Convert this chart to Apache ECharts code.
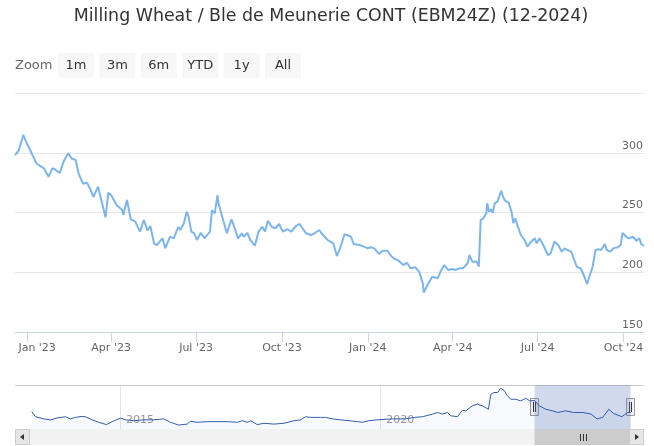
<!DOCTYPE html>
<html>
<head>
<meta charset="utf-8">
<title>Milling Wheat / Ble de Meunerie CONT</title>
<script src="https://cdn.jsdelivr.net/npm/echarts@6/dist/echarts.min.js"></script>
<style>
  html, body { margin: 0; padding: 0; background: #fff; }
  #chart { width: 654px; height: 446px; }
</style>
</head>
<body>
<div id="chart"></div>
<script>
// main series (Dec 2022 - Oct 2024)
var priceDates = [
  "2022-12-19","2022-12-23","2022-12-28","2022-12-31","2023-01-02","2023-01-05","2023-01-07","2023-01-11",
  "2023-01-15","2023-01-19","2023-01-24","2023-01-28","2023-01-31","2023-02-05","2023-02-09","2023-02-14",
  "2023-02-18","2023-02-22","2023-02-25","2023-03-02","2023-03-06","2023-03-10","2023-03-13","2023-03-18",
  "2023-03-21","2023-03-26","2023-03-29","2023-04-01","2023-04-07","2023-04-13","2023-04-14","2023-04-18",
  "2023-04-22","2023-04-27","2023-05-02","2023-05-06","2023-05-10","2023-05-13","2023-05-17","2023-05-20",
  "2023-05-26","2023-05-29","2023-05-31","2023-06-03","2023-06-07","2023-06-12","2023-06-14","2023-06-18",
  "2023-06-21","2023-06-23","2023-06-26","2023-06-29","2023-07-02","2023-07-06","2023-07-10","2023-07-13",
  "2023-07-16","2023-07-18","2023-07-21","2023-07-24","2023-07-25","2023-07-28","2023-07-31","2023-08-03",
  "2023-08-08","2023-08-12","2023-08-15","2023-08-19","2023-08-21","2023-08-25","2023-08-28","2023-09-02",
  "2023-09-06","2023-09-10","2023-09-13","2023-09-16","2023-09-20","2023-09-24","2023-09-28","2023-10-02",
  "2023-10-07","2023-10-11","2023-10-16","2023-10-20","2023-10-23","2023-10-27","2023-11-01","2023-11-05",
  "2023-11-10","2023-11-13","2023-11-19","2023-11-22","2023-11-25","2023-11-29","2023-12-03","2023-12-07",
  "2023-12-10","2023-12-14","2023-12-17","2023-12-23","2023-12-28","2024-01-01","2024-01-04","2024-01-08",
  "2024-01-13","2024-01-17","2024-01-22","2024-01-26","2024-01-29","2024-02-03","2024-02-08","2024-02-12",
  "2024-02-16","2024-02-21","2024-02-25","2024-02-29","2024-03-01","2024-03-05","2024-03-10","2024-03-16",
  "2024-03-19","2024-03-23","2024-03-27","2024-04-01","2024-04-04","2024-04-08","2024-04-12","2024-04-17",
  "2024-04-19","2024-04-22","2024-04-27","2024-04-29","2024-05-01","2024-05-04","2024-05-07","2024-05-08",
  "2024-05-10","2024-05-12","2024-05-14","2024-05-16","2024-05-19","2024-05-23","2024-05-25","2024-05-27",
  "2024-05-31","2024-06-03","2024-06-05","2024-06-07","2024-06-10","2024-06-13","2024-06-17","2024-06-20",
  "2024-06-24","2024-06-28","2024-06-30","2024-07-03","2024-07-07","2024-07-09","2024-07-12","2024-07-15",
  "2024-07-19","2024-07-23","2024-07-27","2024-07-30","2024-08-02","2024-08-06","2024-08-08","2024-08-12",
  "2024-08-16","2024-08-19","2024-08-23","2024-08-26","2024-08-29","2024-09-01","2024-09-04","2024-09-07",
  "2024-09-11","2024-09-13","2024-09-17","2024-09-20","2024-09-25","2024-09-28","2024-09-30","2024-10-04",
  "2024-10-07","2024-10-11","2024-10-15","2024-10-18","2024-10-20","2024-10-23"
];
var priceValues = [
  298,302,315,309,308,301,302,291,
  289,287,280,287,286,283,292.5,299.5,
  295,294,283,274,275,269,263,271.6,
  262,246,266.6,264.6,256,252,248,260.5,
  244.3,242.3,234,243.7,235,238.7,224,222.8,
  228.4,220,218.6,229.7,228.4,238,235.4,241,
  250.7,246.5,234,232.6,227,233,228.4,231.2,
  234,252,249.3,264.6,257.7,249.3,241,232.6,
  244.3,235.4,228.4,232.6,229.7,233,227,222.2,
  234,238,234,243,238,236.8,240.4,234,
  236,234,238.7,240.4,236.8,232.6,231.2,232.6,
  235.4,232,227,225.6,224.2,213.6,221.4,231.8,
  231.2,229.7,223.6,222.8,221.4,220,220.9,220,
  215.3,218,218,213.6,211.7,209.7,206,208,
  203.3,204.1,200.5,190.8,182.9,189.3,196.3,195,
  200.5,206,201.9,202.7,201.9,203.3,203.3,207.5,
  214.4,208.8,208.8,204.6,243.7,245.1,249.3,257.7,
  250.7,252.7,249.8,257.7,259,268.2,263.2,259.9,
  258.2,250.7,241,245.1,238,231.2,227,221.4,
  225.6,228.4,224.2,228.4,222.8,221.4,214.4,215.9,
  225.6,222.8,217.2,220,218.6,217.2,215.9,204.6,
  203.3,198.5,190.2,197.7,204.6,218.6,219.2,218.6,
  223.6,218.6,217.2,220,220.9,222.8,233,229.7,
  228.4,229.7,226.4,228.4,223.6,222
];

// navigator series (full history)
var navDates = [
  "2013-04-22","2013-05-17","2013-07-14","2013-08-30","2013-10-16","2013-12-13","2014-01-18","2014-02-22",
  "2014-04-10","2014-05-03","2014-06-19","2014-08-05","2014-09-28","2014-11-07","2015-01-04","2015-02-08",
  "2015-04-08","2015-06-17","2015-08-26","2015-11-04","2015-12-21","2016-02-17","2016-04-16","2016-05-10",
  "2016-06-26","2016-09-04","2016-11-13","2017-01-23","2017-04-04","2017-05-08","2017-06-12","2017-07-06",
  "2017-08-21","2017-10-07","2017-12-16","2018-02-25","2018-05-06","2018-06-21","2018-07-26","2018-08-30",
  "2018-11-08","2018-12-13","2019-01-29","2019-03-28","2019-05-26","2019-07-24","2019-08-28","2019-10-14",
  "2019-12-23","2020-03-27","2020-06-28","2020-08-26","2020-10-24","2021-01-02","2021-02-06","2021-03-13",
  "2021-04-17","2021-05-10","2021-06-26","2021-07-31","2021-08-23","2021-10-09","2021-11-13","2021-12-18",
  "2022-01-29","2022-02-15","2022-03-09","2022-04-03","2022-04-26","2022-05-19","2022-06-12","2022-07-05",
  "2022-08-09","2022-09-13","2022-10-18","2022-11-15","2022-12-19","2023-01-20","2023-03-08","2023-04-25",
  "2023-06-01","2023-07-24","2023-09-20","2023-11-25","2024-01-20","2024-03-01","2024-04-10","2024-05-23",
  "2024-06-25","2024-08-23","2024-10-01","2024-10-23"
];
var navValues = [
  231,199,186,180,191,199,186,195,
  201,199,180,165,151,169,191,180,
  175,180,180,186,165,148,154,171,
  165,169,169,169,165,175,165,175,
  151,159,154,159,175,180,199,195,
  195,195,186,180,175,169,165,175,
  181,186,186,195,199,215,225,215,
  225,205,199,239,235,266,276,266,
  245,336,347,347,373,360,327,306,
  306,296,312,296,298,266,245,235,
  225,235,225,225,215,186,195,245,
  219,199,225,225
];

var tickDates = ["2023-01-01","2023-04-01","2023-07-01","2023-10-01","2024-01-01","2024-04-01","2024-07-01","2024-10-01"];
var tickLabels = ["Jan '23","Apr '23","Jul '23","Oct '23","Jan '24","Apr '24","Jul '24","Oct '24"];
var navTickDates = ["2015-01-01","2020-01-01"];
var navTickLabels = ["2015","2020"];
var zoomButtons = ["1m","3m","6m","YTD","1y","All"];

var rangeStart = "2022-12-19";
var rangeEnd = "2024-10-23";
var navStart = "2012-12-25";
var navEnd = "2025-01-25";

var FONT = "DejaVu Sans";

function ts(s) { return new Date(s + "T00:00:00").getTime(); }
function pairs(d, v) {
  var out = [];
  for (var i = 0; i < d.length; i++) out.push([ts(d[i]), v[i]]);
  return out;
}

var tickTimes = tickDates.map(ts);
var navTickTimes = navTickDates.map(ts);

var chart = echarts.init(document.getElementById("chart"));

var option = {
  animation: false,
  title: {
    text: "Milling Wheat / Ble de Meunerie CONT (EBM24Z) (12-2024)",
    left: 331, top: 8, textAlign: "center", padding: 0,
    textStyle: { fontFamily: FONT, fontSize: 17.4, fontWeight: "normal", color: "#333333" }
  },
  grid: [
    { left: 15, right: 10, top: 93, bottom: 114 },
    { left: 15, right: 10, top: 385, bottom: 17 }
  ],
  xAxis: [
    {
      // timestamps on a value axis so the quarter ticks can be placed exactly
      type: "value", gridIndex: 0,
      min: ts(rangeStart), max: ts(rangeEnd),
      axisLine: { lineStyle: { color: "#ccd6eb", width: 1 } },
      axisTick: { show: true, length: 10, lineStyle: { color: "#ccd6eb" }, customValues: tickTimes },
      splitLine: { show: false },
      axisLabel: {
        customValues: tickTimes,
        margin: 11,
        fontFamily: FONT, fontSize: 11, color: "#666666",
        formatter: function (val) {
          var i = tickTimes.indexOf(val);
          if (i < 0) return "";
          return i === 0 ? "{first|" + tickLabels[i] + "}" : tickLabels[i];
        },
        rich: {
          first: { padding: [0, 0, 0, 20], fontFamily: FONT, fontSize: 11, color: "#666666" }
        }
      }
    },
    {
      type: "value", gridIndex: 1,
      min: ts(navStart), max: ts(navEnd),
      axisLine: { show: false },
      axisTick: { show: false, customValues: navTickTimes },
      splitLine: { show: true, lineStyle: { color: "#e6e6e6" } },
      axisLabel: {
        inside: true, customValues: navTickTimes,
        margin: 3, align: "left", padding: [0, 0, 0, 6],
        fontFamily: FONT, fontSize: 11, color: "#999999",
        formatter: function (val) {
          var i = navTickTimes.indexOf(val);
          return i < 0 ? "" : navTickLabels[i];
        }
      }
    }
  ],
  yAxis: [
    {
      type: "value", gridIndex: 0, position: "right",
      min: 150, max: 350, interval: 50,
      axisLine: { show: false }, axisTick: { show: false },
      splitLine: { lineStyle: { color: "#e6e6e6" } },
      axisLabel: {
        inside: true, showMaxLabel: false, margin: 1,
        verticalAlign: "bottom", lineHeight: 12, padding: [0, 0, 1, 0],
        fontFamily: FONT, fontSize: 11, color: "#666666"
      }
    },
    { type: "value", gridIndex: 1, min: 124, max: 393, show: false }
  ],
  series: [
    {
      type: "line", xAxisIndex: 0, yAxisIndex: 0,
      data: pairs(priceDates, priceValues),
      showSymbol: false,
      lineStyle: { width: 2, color: "#7cb5ec" },
      itemStyle: { color: "#7cb5ec" }
    },
    {
      type: "line", xAxisIndex: 1, yAxisIndex: 1,
      data: pairs(navDates, navValues),
      showSymbol: false,
      lineStyle: { width: 1, color: "#335cad" },
      itemStyle: { color: "#335cad" },
      areaStyle: { color: "rgba(51,92,173,0.05)" },
      markArea: {
        silent: true,
        itemStyle: { color: "rgba(102,133,194,0.3)" },
        data: [[{ xAxis: ts(rangeStart) }, { xAxis: ts(rangeEnd) }]]
      }
    }
  ]
};

chart.setOption(option);

// range selector, navigator outline, handles and scrollbar
var xa = chart.convertToPixel({ xAxisIndex: 1 }, ts(rangeStart));
var xb = chart.convertToPixel({ xAxisIndex: 1 }, ts(rangeEnd));
var g = [];

g.push({ type: "text", x: 15, y: 66, style: { text: "Zoom", fontFamily: FONT, fontSize: 13, fill: "#666666", verticalAlign: "middle" } });
for (var i = 0; i < zoomButtons.length; i++) {
  var bx = 58 + i * 41.4;
  g.push({ type: "rect", shape: { x: bx, y: 53, width: 36, height: 25 }, style: { fill: "#f7f7f7" } });
  g.push({ type: "text", x: bx + 18, y: 66, style: { text: zoomButtons[i], fontFamily: FONT, fontSize: 13, fill: "#333333", align: "center", verticalAlign: "middle" } });
}

// navigator outline
g.push({ type: "line", shape: { x1: 15, y1: 385.5, x2: 644, y2: 385.5 }, style: { stroke: "#cccccc", lineWidth: 1 } });

// scrollbar
g.push({ type: "rect", shape: { x: 15, y: 429, width: 629, height: 16 }, style: { fill: "#f2f2f2" } });
g.push({ type: "rect", shape: { x: xa, y: 429, width: xb - xa, height: 16 }, style: { fill: "#cccccc" } });
[-3, 0, 3].forEach(function (d) {
  var cx = Math.round((xa + xb) / 2) + d + 0.5;
  g.push({ type: "line", shape: { x1: cx, y1: 434, x2: cx, y2: 441 }, style: { stroke: "#333333", lineWidth: 1 } });
});
g.push({ type: "rect", shape: { x: 15.5, y: 429.5, width: 14, height: 15 }, style: { fill: "#e6e6e6", stroke: "#cccccc", lineWidth: 1 } });
g.push({ type: "polygon", shape: { points: [[24, 434], [24, 440], [20, 437]] }, style: { fill: "#333333" } });
g.push({ type: "rect", shape: { x: 629.5, y: 429.5, width: 14, height: 15 }, style: { fill: "#e6e6e6", stroke: "#cccccc", lineWidth: 1 } });
g.push({ type: "polygon", shape: { points: [[635, 434], [635, 440], [639, 437]] }, style: { fill: "#333333" } });

// handles
[xa, xb].forEach(function (hx) {
  var x0 = Math.round(hx) - 4.5;
  g.push({ type: "rect", shape: { x: x0, y: 398.5, width: 8, height: 17 }, style: { fill: "#f2f2f2", stroke: "#999999", lineWidth: 1 } });
  g.push({ type: "line", shape: { x1: x0 + 3, y1: 402, x2: x0 + 3, y2: 412 }, style: { stroke: "#333333", lineWidth: 1 } });
  g.push({ type: "line", shape: { x1: x0 + 5, y1: 402, x2: x0 + 5, y2: 412 }, style: { stroke: "#333333", lineWidth: 1 } });
});

chart.setOption({ graphic: g });
</script>
</body>
</html>
